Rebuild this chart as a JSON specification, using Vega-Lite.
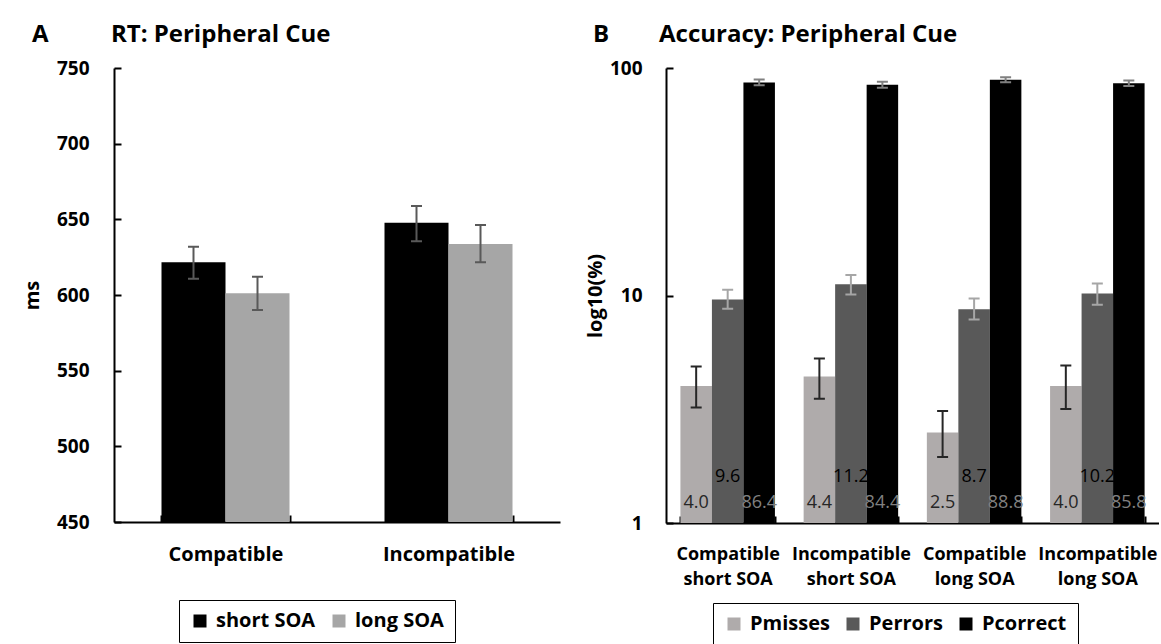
{
  "$schema": "https://vega.github.io/schema/vega-lite/v6.json",
  "background": "white",
  "padding": {"left": 22, "top": 23, "right": 0, "bottom": 0},
  "config": {
    "font": "Open Sans",
    "view": {"stroke": null},
    "axis": {"grid": false, "domainColor": "black", "domainWidth": 2, "tickColor": "black", "tickWidth": 2, "tickSize": -7,
      "labelFont": "Open Sans", "labelFontWeight": "bold", "labelFontSize": 19, "labelColor": "black",
      "titleFont": "Open Sans", "titleFontWeight": "bold", "titleFontSize": 20, "titleColor": "black"},
    "legend": {"orient": "none", "direction": "horizontal", "symbolType": "square", "symbolSize": 169, "symbolStrokeWidth": 0,
      "labelFont": "Open Sans", "labelFontWeight": "bold", "labelFontSize": 20, "labelColor": "black", "strokeColor": "black",
      "padding": 11, "columnPadding": 13, "labelOffset": 6},
    "title": {"font": "Open Sans", "fontSize": 24, "fontWeight": "bold", "anchor": "start", "frame": "group", "color": "black", "offset": 12},
    "concat": {"spacing": 25}
  },
  "resolve": {"scale": {"x": "independent", "xOffset": "independent", "y": "independent", "color": "independent", "stroke": "independent"}, "legend": {"color": "independent"}},
  "datasets": {
    "rt": [
      {"compat": "Compatible", "soa": "short SOA", "rt": 621.6, "lo": 610.8, "hi": 631.9},
      {"compat": "Compatible", "soa": "long SOA", "rt": 601.1, "lo": 590.1, "hi": 612.1},
      {"compat": "Incompatible", "soa": "short SOA", "rt": 647.8, "lo": 635.5, "hi": 658.8},
      {"compat": "Incompatible", "soa": "long SOA", "rt": 633.7, "lo": 621.6, "hi": 646.3}
    ],
    "acc": [
      {"cond": "Compatible\nshort SOA", "measure": "Pmisses", "val": 4.0, "lo": 3.22, "hi": 4.88},
      {"cond": "Compatible\nshort SOA", "measure": "Perrors", "val": 9.6, "lo": 8.74, "hi": 10.6},
      {"cond": "Compatible\nshort SOA", "measure": "Pcorrect", "val": 86.4, "lo": 83.9, "hi": 88.9},
      {"cond": "Incompatible\nshort SOA", "measure": "Pmisses", "val": 4.4, "lo": 3.52, "hi": 5.29},
      {"cond": "Incompatible\nshort SOA", "measure": "Perrors", "val": 11.2, "lo": 10.1, "hi": 12.3},
      {"cond": "Incompatible\nshort SOA", "measure": "Pcorrect", "val": 84.4, "lo": 81.8, "hi": 87.0},
      {"cond": "Compatible\nlong SOA", "measure": "Pmisses", "val": 2.5, "lo": 1.95, "hi": 3.11},
      {"cond": "Compatible\nlong SOA", "measure": "Perrors", "val": 8.7, "lo": 7.84, "hi": 9.7},
      {"cond": "Compatible\nlong SOA", "measure": "Pcorrect", "val": 88.8, "lo": 86.6, "hi": 91.0},
      {"cond": "Incompatible\nlong SOA", "measure": "Pmisses", "val": 4.0, "lo": 3.17, "hi": 4.92},
      {"cond": "Incompatible\nlong SOA", "measure": "Perrors", "val": 10.2, "lo": 9.1, "hi": 11.3},
      {"cond": "Incompatible\nlong SOA", "measure": "Pcorrect", "val": 85.8, "lo": 83.4, "hi": 88.2}
    ]
  },
  "hconcat": [
    {
      "title": {"text": "A\u00a0\u00a0\u00a0\u00a0\u00a0\u00a0\u00a0\u00a0\u00a0\u00a0RT: Peripheral Cue", "dx": -82},
      "width": 446,
      "height": 454,
      "data": {"name": "rt"},
      "encoding": {
        "x": {"field": "compat", "type": "nominal", "sort": ["Compatible", "Incompatible"],
          "scale": {"type": "band", "paddingInner": 0.426, "paddingOuter": 0.213},
          "axis": {"title": null, "labelAngle": 0, "tickBand": "extent", "labelPadding": 29, "labelFontSize": 20,
            "labelExpr": "isValid(datum.value) ? datum.value : ''"}},
        "xOffset": {"field": "soa", "type": "nominal", "sort": ["short SOA", "long SOA"],
          "scale": {"type": "band", "domain": ["short SOA", "long SOA"], "paddingInner": 0, "paddingOuter": 0}}
      },
      "layer": [
        {
          "mark": {"type": "bar"},
          "encoding": {
            "y": {"field": "rt", "type": "quantitative", "scale": {"domain": [450, 750], "zero": false, "nice": false},
              "axis": {"title": "ms", "values": [450, 500, 550, 600, 650, 700, 750], "labelPadding": 32, "titlePadding": 14}},
            "y2": {"datum": 450},
            "color": {"field": "soa", "type": "nominal", "scale": {"domain": ["short SOA", "long SOA"], "range": ["#000000", "#a6a6a6"]},
              "legend": {"title": null, "legendX": 65, "legendY": 532, "columns": 2}}
          }
        },
        {
          "mark": {"type": "rule", "color": "#595959", "strokeWidth": 2},
          "encoding": {"y": {"field": "lo", "type": "quantitative"}, "y2": {"field": "hi"}}
        },
        {
          "mark": {"type": "bar", "width": 11, "color": "#595959", "stroke": "#595959", "strokeWidth": 2},
          "encoding": {"y": {"field": "lo", "type": "quantitative"}, "y2": {"field": "lo"}}
        },
        {
          "mark": {"type": "bar", "width": 11, "color": "#595959", "stroke": "#595959", "strokeWidth": 2},
          "encoding": {"y": {"field": "hi", "type": "quantitative"}, "y2": {"field": "hi"}}
        }
      ]
    },
    {
      "title": {"text": "B\u00a0\u00a0\u00a0\u00a0\u00a0\u00a0\u00a0\u00a0Accuracy: Peripheral Cue", "dx": -73},
      "width": 493,
      "height": 455,
      "data": {"name": "acc"},
      "encoding": {
        "x": {"field": "cond", "type": "nominal",
          "sort": ["Compatible\nshort SOA", "Incompatible\nshort SOA", "Compatible\nlong SOA", "Incompatible\nlong SOA"],
          "scale": {"type": "band", "paddingInner": 0.233, "paddingOuter": 0.117},
          "axis": {"title": null, "labelAngle": 0, "tickBand": "extent", "labelPadding": 29, "labelLineHeight": 25, "labelFontSize": 18,
            "labelExpr": "isValid(datum.value) ? split(datum.value, '\\n') : ''"}},
        "xOffset": {"field": "measure", "type": "nominal", "sort": ["Pmisses", "Perrors", "Pcorrect"],
          "scale": {"type": "band", "domain": ["Pmisses", "Perrors", "Pcorrect"], "paddingInner": 0, "paddingOuter": 0}}
      },
      "layer": [
        {
          "mark": {"type": "bar"},
          "encoding": {
            "y": {"field": "val", "type": "quantitative", "scale": {"type": "log", "domain": [1, 100], "nice": false},
              "axis": {"title": "log10(%)", "values": [1, 10, 100], "format": "d", "labelPadding": 31, "titlePadding": 4}},
            "y2": {"datum": 1},
            "color": {"field": "measure", "type": "nominal", "scale": {"domain": ["Pmisses", "Perrors", "Pcorrect"], "range": ["#afabab", "#595959", "#000000"]},
              "legend": {"title": null, "legendX": 47, "legendY": 535, "columns": 3}}
          }
        },
        {
          "mark": {"type": "rule", "strokeWidth": 2},
          "encoding": {"y": {"field": "lo", "type": "quantitative"}, "y2": {"field": "hi"},
            "color": {"field": "measure", "type": "nominal", "scale": {"domain": ["Pmisses", "Perrors", "Pcorrect"], "range": ["#262626", "#a6a6a6", "#808080"]}, "legend": null}}
        },
        {
          "mark": {"type": "bar", "width": 11, "strokeWidth": 2},
          "encoding": {"y": {"field": "lo", "type": "quantitative"}, "y2": {"field": "lo"},
            "color": {"field": "measure", "type": "nominal", "scale": {"domain": ["Pmisses", "Perrors", "Pcorrect"], "range": ["#262626", "#a6a6a6", "#808080"]}, "legend": null},
            "stroke": {"field": "measure", "type": "nominal", "scale": {"domain": ["Pmisses", "Perrors", "Pcorrect"], "range": ["#262626", "#a6a6a6", "#808080"]}, "legend": null}}
        },
        {
          "mark": {"type": "bar", "width": 11, "strokeWidth": 2},
          "encoding": {"y": {"field": "hi", "type": "quantitative"}, "y2": {"field": "hi"},
            "color": {"field": "measure", "type": "nominal", "scale": {"domain": ["Pmisses", "Perrors", "Pcorrect"], "range": ["#262626", "#a6a6a6", "#808080"]}, "legend": null},
            "stroke": {"field": "measure", "type": "nominal", "scale": {"domain": ["Pmisses", "Perrors", "Pcorrect"], "range": ["#262626", "#a6a6a6", "#808080"]}, "legend": null}}
        },
        {
          "transform": [{"filter": "datum.measure != 'Perrors'"}],
          "mark": {"type": "text", "font": "Open Sans", "fontSize": 18, "fontWeight": "normal", "baseline": "middle"},
          "encoding": {"y": {"datum": 1.23, "type": "quantitative"}, "text": {"field": "val", "type": "quantitative", "format": ".1f"},
            "color": {"field": "measure", "type": "nominal", "scale": {"domain": ["Pmisses", "Perrors", "Pcorrect"], "range": ["#262626", "#000000", "#808080"]}, "legend": null}}
        },
        {
          "transform": [{"filter": "datum.measure == 'Perrors'"}],
          "mark": {"type": "text", "font": "Open Sans", "fontSize": 18, "fontWeight": "normal", "baseline": "middle"},
          "encoding": {"y": {"datum": 1.59, "type": "quantitative"}, "text": {"field": "val", "type": "quantitative", "format": ".1f"},
            "color": {"field": "measure", "type": "nominal", "scale": {"domain": ["Pmisses", "Perrors", "Pcorrect"], "range": ["#262626", "#000000", "#808080"]}, "legend": null}}
        }
      ],
      "resolve": {"scale": {"color": "independent", "stroke": "independent"}}
    }
  ]
}
